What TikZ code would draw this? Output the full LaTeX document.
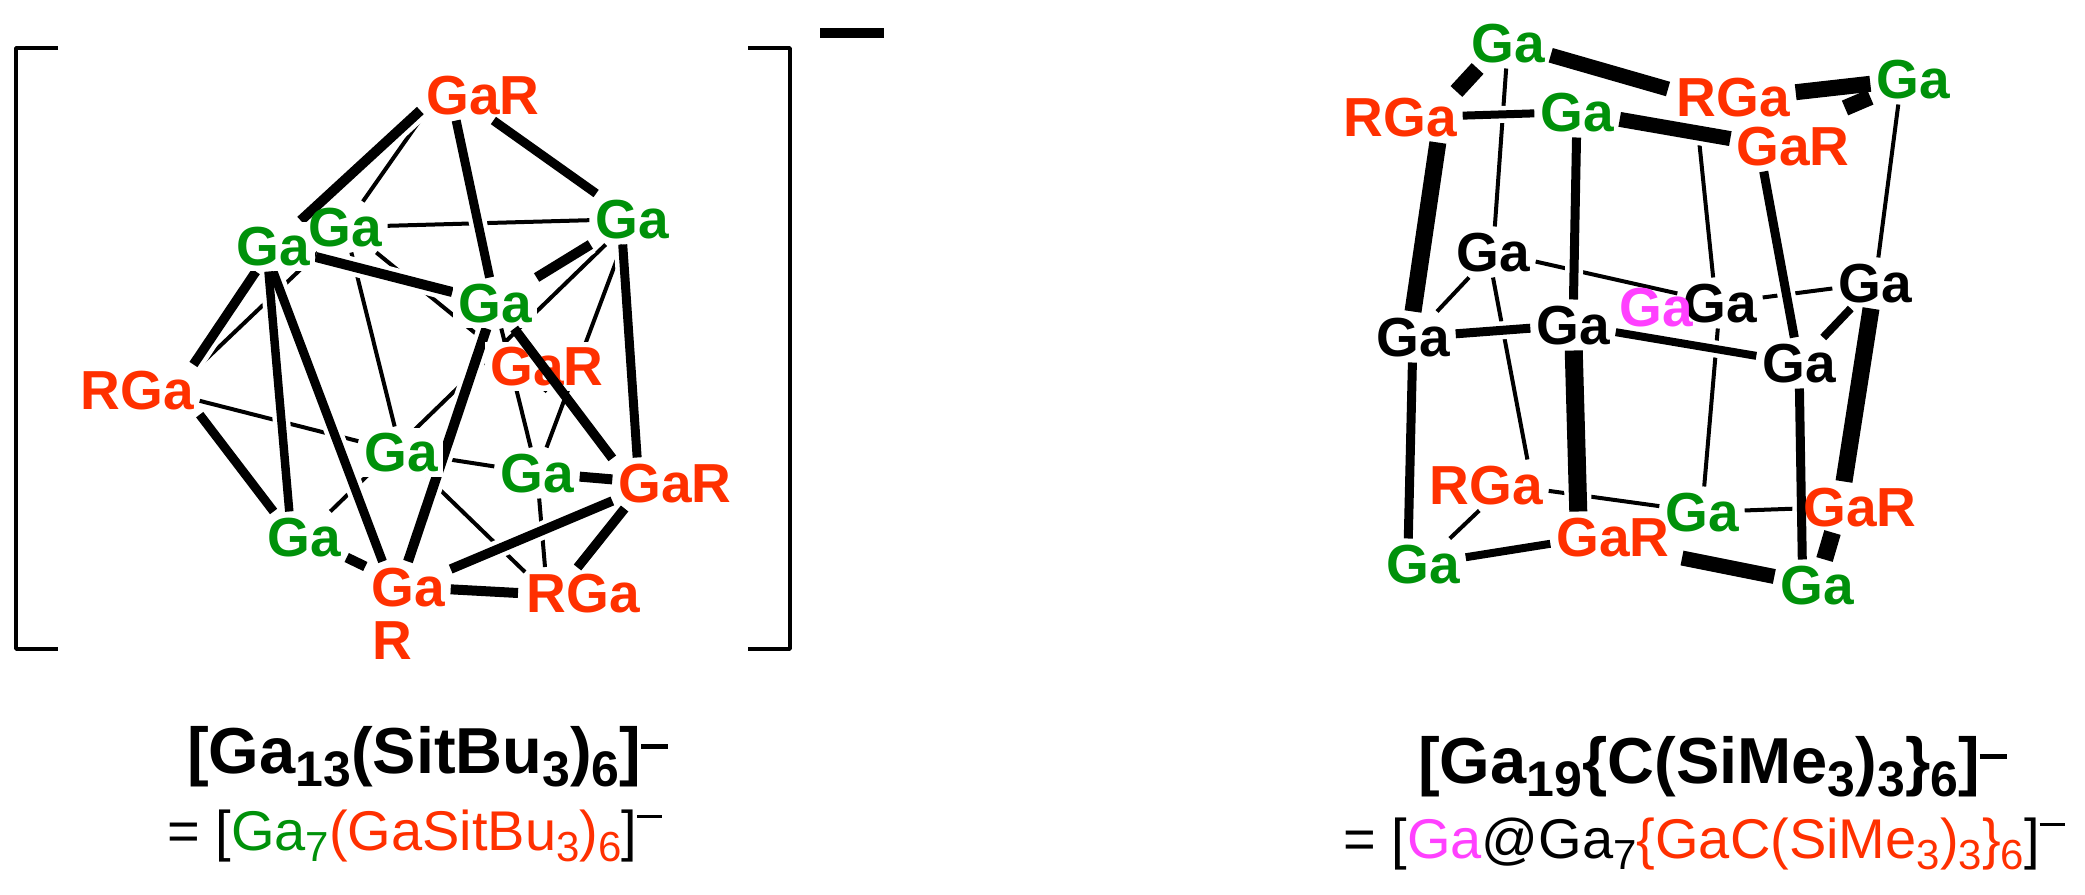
\documentclass[tikz,border=0pt]{standalone}
\usepackage{fontspec}
\setmainfont{Liberation Sans}
\definecolor{gagreen}{RGB}{0,145,10}
\definecolor{gared}{RGB}{255,48,0}
\definecolor{gapink}{RGB}{255,64,255}
\pgfdeclarelayer{bonds}
\pgfsetlayers{bonds,main}
\tikzset{%
   atom/.style={
      font=\fontsize{55}{55}\selectfont\bfseries,
      inner sep=5pt,
      outer sep=1pt,
      text height=39pt,
      text depth=0pt
   },
   gr/.style={atom, text=gagreen},
   rd/.style={atom, text=gared},
   bk/.style={atom, text=black},
   pk/.style={atom, text=gapink},
   hide/.style={fill=white},
   title/.style={
      anchor=base west,
      inner sep=0pt,
      font=\fontsize{65}{70}\selectfont\bfseries
   },
   subtitle/.style={
      anchor=base west,
      inner sep=0pt,
      font=\fontsize{56}{60}\selectfont
   },
   bracket/.style={
      line width=3.5pt,
      line join=round
   },
}
\newcommand\bsub[1]{\raisebox{-13pt}{\fontsize{50}{50}\selectfont #1}}
\newcommand\bsup{\raisebox{24pt}{\rule{27pt}{5pt}}}
\newcommand\nsub[1]{\raisebox{-11pt}{\fontsize{42}{42}\selectfont #1}}
\newcommand\nsup{\raisebox{32pt}{\rule{25pt}{3.5pt}}}
\newcommand\thinbonds{a1.210/a3, a3/a4, a3/a7.30, a3/a8, a3/a6.south, a7/a8, a4/a9, a5/a9, a4/a11, a8/a9, a8/a13t, a9/a13u, b1/b7, b3.-120/b9, b2b/b8.105, b7/b8, b8/b9, b7/b11, b7.south/b14.50, b8/b15, b14/b15, b14/b17, b15/b16}
\newcommand\thickbonds{a1.200/a2/10, a1.-105/a5/9, a1.-40/a4/9, a4/a5/10, a2/a5/10, a4.-110/a10.125/9, a2/a7.35/9.5, a2.-100/a11.120/8.5, a2.south/a12.135/9, a5/a12.north/10, a7.-30/a11.140/9, a11/a12/10, a12/a13w/10, a12/a10/9.5, a10.-140/a13.135/9.5, a9/a10/10, b1.-140/b4.35/16, b1/b2w/15, b2/b3/16, b3/b6n/16, b4/b5/8, b5/b6/15, b4.-55/b11.north/17, b5/b12/9, b6.-110/b13/9, b11/b12/9, b12/b13/8, b9/b13/8, b9/b16/17, b11/b17.120/9, b12/b18.120/18, b13/b19.120/9, b16/b19/17, b17/b18/8, b18e/b19/15}
\begin{document}
\begin{tikzpicture}[x=1pt, y=-1pt]
   \useasboundingbox (0,0) rectangle (2085,894);
   \draw[bracket] (58,48) -- (16,48) -- (16,649) -- (58,649);
   \draw[bracket] (748,48) -- (790,48) -- (790,649) -- (748,649);
   \fill (820,28) rectangle (884,38);
   \node[rd] (a1) at (463,95) {Ga\rlap{R}};
   \node[gr, hide] (a2) at (273,246) {Ga};
   \node[gr] (a3) at (345,227) {Ga};
   \node[gr] (a4) at (632,219) {Ga};
   \node[gr, hide] (a5) at (495,303) {Ga};
   \node[rd, hide] (a6) at (547,366) {GaR};
   \node[rd] (a7) at (157,390) {\llap{R}Ga};
   \node[gr, hide] (a8) at (401,452) {Ga};
   \node[gr] (a9) at (537,473) {Ga};
   \node[rd] (a10) at (655,483) {Ga\rlap{R}};
   \node[gr] (a11) at (304,537) {Ga};
   \node[rd] (a12) at (408,587) {Ga};
   \node[rd] (a12r) at (392,640) {R};
   \node[rd] (a13) at (603,593) {\llap{R}Ga};
   \coordinate (a13w) at (518,593);
   \coordinate (a13t) at (525,572);
   \coordinate (a13u) at (545,567);
   \node[gr] (b1) at (1508,43) {Ga};
   \node[rd] (b2) at (1753,97) {\llap{R}Ga};
   \node[gr] (b3) at (1913,79) {Ga};
   \node[rd] (b4) at (1420,117) {\llap{R}Ga};
   \node[gr] (b5) at (1577,112) {Ga};
   \node[rd] (b6) at (1773,146) {Ga\rlap{R}};
   \node[bk] (b7) at (1493,252) {Ga};
   \node[bk] (b8) at (1720,303) {Ga};
   \node[bk] (b9) at (1875,283) {Ga};
   \node[pk] (b10) at (1656,307) {Ga};
   \node[bk] (b11) at (1413,337) {Ga};
   \node[bk] (b12) at (1573,325) {Ga};
   \node[bk] (b13) at (1799,363) {Ga};
   \node[rd] (b14) at (1506,485) {\llap{R}Ga};
   \node[gr] (b15) at (1702,512) {Ga};
   \node[rd] (b16) at (1840,507) {Ga\rlap{R}};
   \node[gr] (b17) at (1423,564) {Ga};
   \node[rd] (b18) at (1593,537) {Ga\rlap{R}};
   \node[gr] (b19) at (1817,585) {Ga};
   \coordinate (b2w) at (1668,89);
   \coordinate (b2b) at (1698,130);
   \coordinate (b6n) at (1845,108);
   \coordinate (b18e) at (1682,558);
   \node[title] (t1) at (187,773) {[Ga\bsub{13}(SitBu\bsub{3})\bsub{6}]\bsup};
   \node[subtitle] (s1) at (167,850) {= [\textcolor{gagreen}{Ga\nsub{7}}\textcolor{gared}{(GaSitBu\nsub{3})\nsub{6}}]\nsup};
   \node[title] (t2) at (1418,783) {[Ga\bsub{19}\{C(SiMe\bsub{3})\bsub{3}\}\bsub{6}]\bsup};
   \node[subtitle] (s2) at (1343,858) {= [\textcolor{gapink}{Ga}@Ga\nsub{7}\textcolor{gared}{\{GaC(SiMe\nsub{3})\nsub{3}\}\nsub{6}}]\nsup};
   \begin{pgfonlayer}{bonds}
      \foreach \from/\to in \thinbonds
         \draw[line width=4pt] (\from) -- (\to);
      \foreach \from/\to/\wd in \thickbonds
         \draw[white, line width=\wd pt + 9pt] (\from) -- (\to);
      \foreach \from/\to/\wd in \thickbonds
         \draw[line width=\wd pt] (\from) -- (\to);
   \end{pgfonlayer}
   \draw[line width=9.5pt] (a5) -- (a10.150);
\end{tikzpicture}
\end{document}
